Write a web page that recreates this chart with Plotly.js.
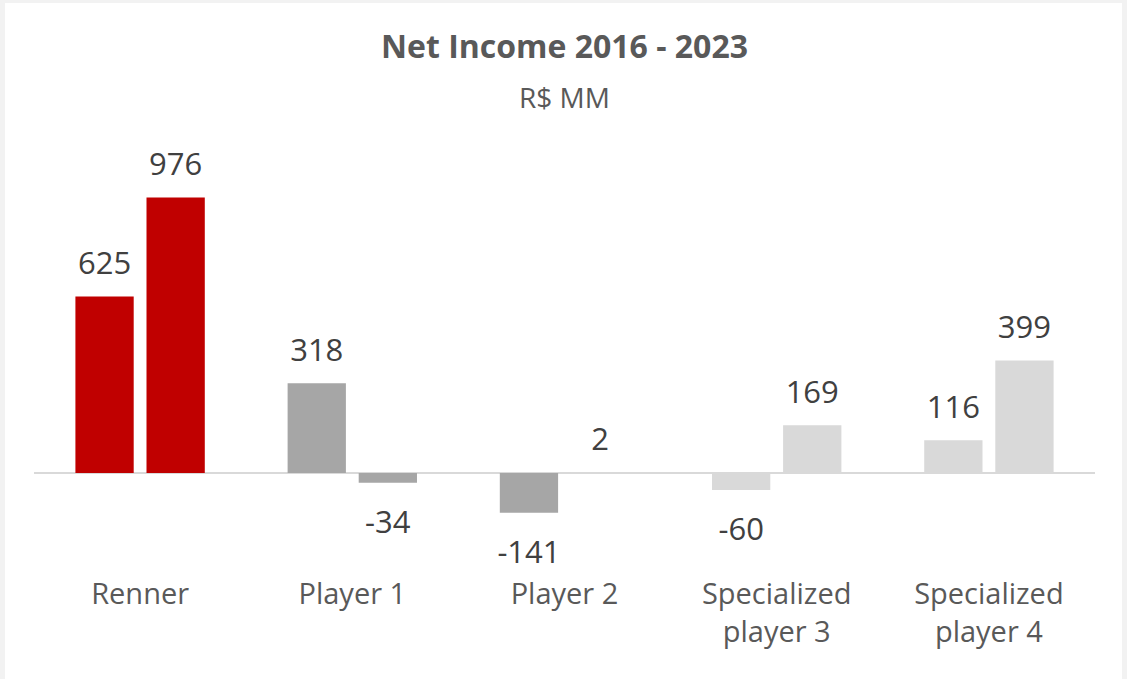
<!DOCTYPE html>
<html>
<head>
<meta charset="utf-8">
<script src="https://cdn.plot.ly/plotly-3.0.1.min.js"></script>
<style>
  html, body { margin: 0; padding: 0; background: #F2F2F2; width: 1127px; height: 679px; overflow: hidden; }
  #chart { position: absolute; left: 5px; top: 3px; width: 1117px; height: 676px; background: #fff; }
</style>
</head>
<body>
<div id="chart"></div>
<script>
const categories = ['Renner', 'Player 1', 'Player 2', 'Specialized<br>player 3', 'Specialized<br>player 4'];
const years = ['2016', '2023'];
const values2016 = [625, 318, -141, -60, 116];
const values2023 = [976, -34, 2, 169, 399];
const colors2016 = ['#C00000', '#A6A6A6', '#A6A6A6', '#D9D9D9', '#D9D9D9'];
const colors2023 = ['#C00000', '#A6A6A6', '#D9D9D9', '#D9D9D9', '#D9D9D9'];
const titleText = 'Net Income 2016 - 2023';
const subtitleText = 'R$ MM';

const FONT = 'Open Sans, Arial, sans-serif';
const LABEL_COLOR = '#404040';

function barTrace(name, vals, cols, grp) {
  return {
    type: 'bar', name: name, x: categories, y: vals,
    marker: { color: cols, line: { width: 0 } },
    offsetgroup: grp, alignmentgroup: 'a',
    hoverinfo: 'x+y', showlegend: false
  };
}
function labelTrace(name, vals, grp) {
  return {
    type: 'scatter', mode: 'markers+text', name: name + ' labels',
    x: categories, y: vals,
    text: vals.map(v => String(v)),
    textposition: vals.map(v => v >= 0 ? 'top center' : 'bottom center'),
    marker: { size: vals.map(v => v >= 0 ? 22 : 42), opacity: 0 },
    textfont: { family: FONT, size: 31, color: LABEL_COLOR },
    offsetgroup: grp, alignmentgroup: 'a',
    hoverinfo: 'skip', showlegend: false, cliponaxis: false
  };
}

const data = [
  barTrace(years[0], values2016, colors2016, 'g1'),
  barTrace(years[1], values2023, colors2023, 'g2'),
  labelTrace(years[0], values2016, 'g1'),
  labelTrace(years[1], values2023, 'g2')
];

const layout = {
  width: 1117, height: 676,
  margin: { l: 29, r: 27, t: 127, b: 119 },
  paper_bgcolor: '#FFFFFF', plot_bgcolor: '#FFFFFF',
  barmode: 'group', scattermode: 'group',
  bargap: 0.33, bargroupgap: 0.18,
  title: {
    text: '<b>' + titleText + '</b>',
    font: { family: FONT, size: 32, color: '#595959' },
    x: 0.5, xanchor: 'center', xref: 'paper',
    y: 1 - 44 / 676, yanchor: 'middle', yref: 'container'
  },
  annotations: [{
    text: subtitleText, showarrow: false,
    xref: 'paper', yref: 'paper', x: 0.5, xanchor: 'center',
    y: 1 + 33 / 430, yanchor: 'middle',
    font: { family: FONT, size: 28, color: '#595959' }
  }],
  xaxis: {
    type: 'category', showgrid: false, showline: false, zeroline: false,
    ticks: '', tickfont: { family: FONT, size: 29, color: '#595959' },
    ticklabelstandoff: 14, fixedrange: true
  },
  yaxis: {
    range: [-308, 1215], showgrid: false, showticklabels: false,
    zeroline: true, zerolinecolor: '#D9D9D9', zerolinewidth: 2,
    showline: false, ticks: '', fixedrange: true
  },
  font: { family: FONT, color: '#595959' }
};

Plotly.newPlot('chart', data, layout, { displayModeBar: false, staticPlot: true });
</script>
</body>
</html>
